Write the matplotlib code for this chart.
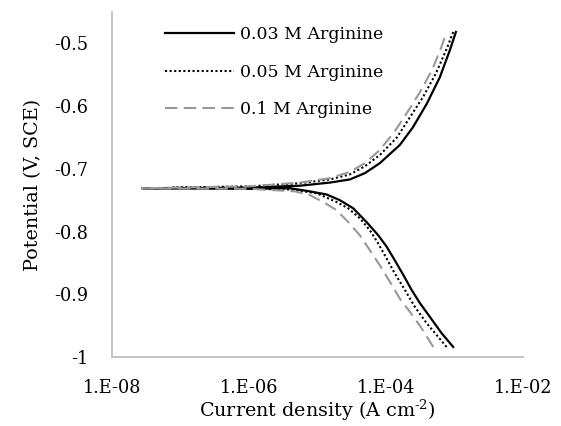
import numpy as np
import matplotlib
matplotlib.use('Agg')
import matplotlib.pyplot as plt

# values: log10(current density, A cm-2) and potential (V vs SCE)
# each curve runs from the cathodic end, through the Ecorr spike, out the anodic end
labels = ['0.03 M Arginine', '0.05 M Arginine', '0.1 M Arginine']

log_i_003 = [-3.017, -3.187, -3.358, -3.504, -3.625, -3.747, -3.869, -3.990, -4.112, -4.282,
             -4.477, -4.672, -4.866, -5.109, -5.401, -5.985,
             -7.562,
             -5.985, -5.255, -4.818, -4.526, -4.307, -4.088, -3.796, -3.606, -3.401, -3.212,
             -3.066, -2.978]
e_003 = [-0.984, -0.962, -0.936, -0.914, -0.893, -0.869, -0.846, -0.824, -0.806, -0.785,
         -0.763, -0.750, -0.741, -0.736, -0.731, -0.732,
         -0.731,
         -0.730, -0.727, -0.722, -0.717, -0.707, -0.691, -0.662, -0.634, -0.596, -0.554,
         -0.511, -0.482]

log_i_005 = [-3.114, -3.236, -3.406, -3.577, -3.723, -3.869, -3.990, -4.112, -4.234, -4.380,
             -4.550, -4.720, -5.012, -5.401, -5.985,
             -7.109,
             -5.985, -5.255, -4.818, -4.526, -4.307, -4.088, -3.839, -3.650, -3.460, -3.270,
             -3.109, -3.007]
e_005 = [-0.984, -0.968, -0.946, -0.920, -0.893, -0.867, -0.843, -0.819, -0.798, -0.779,
         -0.763, -0.753, -0.739, -0.733, -0.732,
         -0.730,
         -0.728, -0.723, -0.717, -0.709, -0.696, -0.678, -0.650, -0.618, -0.586, -0.548,
         -0.508, -0.479]

log_i_01 = [-3.309, -3.479, -3.650, -3.796, -3.942, -4.088, -4.234, -4.380, -4.550, -4.720,
            -4.915, -5.109, -5.328, -5.985,
            -7.562,
            -5.985, -5.255, -4.818, -4.526, -4.307, -4.088, -3.869, -3.693, -3.504, -3.328,
            -3.197, -3.124]
e_01 = [-0.984, -0.954, -0.928, -0.907, -0.880, -0.854, -0.830, -0.806, -0.785, -0.766,
        -0.753, -0.742, -0.736, -0.732,
        -0.731,
        -0.728, -0.722, -0.715, -0.705, -0.691, -0.670, -0.640, -0.611, -0.578, -0.543,
        -0.508, -0.486]

x_ticks = [1e-8, 1e-6, 1e-4, 1e-2]
x_tick_labels = ['1.E-08', '1.E-06', '1.E-04', '1.E-02']
y_ticks = [-1, -0.9, -0.8, -0.7, -0.6, -0.5]
y_tick_labels = ['-1', '-0.9', '-0.8', '-0.7', '-0.6', '-0.5']

plt.rcParams['font.family'] = ['DejaVu Serif']
plt.rcParams['mathtext.fontset'] = 'custom'
plt.rcParams['mathtext.rm'] = 'DejaVu Serif'

fig = plt.figure(figsize=(5.61, 4.26), dpi=100)
ax = fig.add_axes([0.1996, 0.162, 0.7324, 0.81])

ax.plot(10 ** np.array(log_i_003), e_003, color='black', lw=1.6, label=labels[0],
        solid_joinstyle='round')
ax.plot(10 ** np.array(log_i_005), e_005, color='black', lw=1.5, linestyle=(0, (1, 1.2)),
        label=labels[1])
ax.plot(10 ** np.array(log_i_01), e_01, color='#999999', lw=1.5, linestyle=(0, (6, 3)),
        label=labels[2])

ax.set_xscale('log')
ax.set_xlim(1e-8, 1e-2)
ax.set_ylim(-1, -0.45)
ax.set_xticks(x_ticks)
ax.set_xticklabels(x_tick_labels)
ax.minorticks_off()
ax.set_yticks(y_ticks)
ax.set_yticklabels(y_tick_labels)
ax.tick_params(axis='both', length=0, labelsize=12.8, colors='black')
ax.tick_params(axis='y', pad=17)
ax.tick_params(axis='x', pad=16)

for side in ['top', 'right']:
    ax.spines[side].set_visible(False)
for side in ['left', 'bottom']:
    ax.spines[side].set_color('#BFBFBF')
    ax.spines[side].set_linewidth(1.3)

ax.set_xlabel('Current density (A cm$^{\\text{-2}}$)', fontsize=13.8, labelpad=0)
ax.set_ylabel('Potential (V, SCE)', fontsize=13.8, labelpad=9)

ax.legend(loc='upper left', bbox_to_anchor=(0.09, 1.005), frameon=False, fontsize=12.5,
          handlelength=4.0, handletextpad=0.35, labelspacing=1.2)

fig.savefig('out.png', dpi=100)
